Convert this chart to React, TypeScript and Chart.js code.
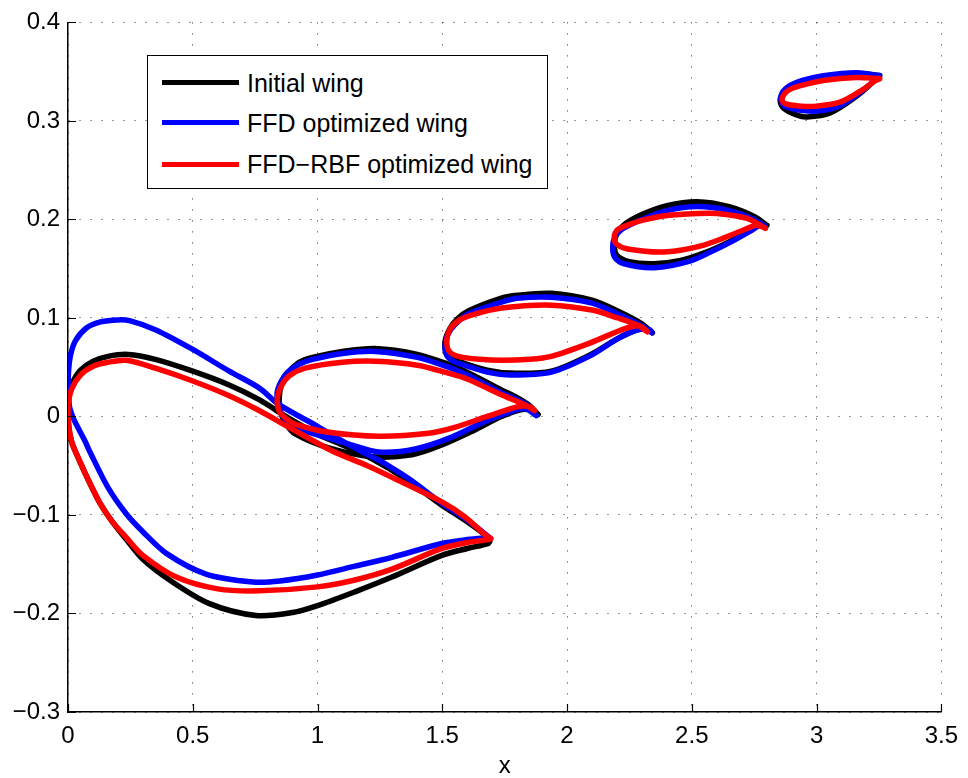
import React, { useEffect, useRef } from "react";
import { Chart, registerables } from "chart.js";

Chart.register(...registerables);

type P = [number, number];

const seriesNames = ["Initial wing", "FFD optimized wing", "FFD−RBF optimized wing"];
const seriesColors = ["#000000", "#0000ff", "#ff0000"];

const xTickValues = [0, 0.5, 1, 1.5, 2, 2.5, 3, 3.5];
const xTickLabels = ["0", "0.5", "1", "1.5", "2", "2.5", "3", "3.5"];
const yTickValues = [-0.3, -0.2, -0.1, 0, 0.1, 0.2, 0.3, 0.4];
const yTickLabels = ["−0.3", "−0.2", "−0.1", "0", "0.1", "0.2", "0.3", "0.4"];
const xTitle = "x";

// ---- Initial wing (black) ----
const initialWing1: P[] = [
  [1.69, -0.127], [1.684, -0.123], [1.6, -0.107], [1.498, -0.09], [1.35, -0.063], [1.218, -0.043],
  [1.1, -0.029], [1.0, -0.018], [0.886, -0.002], [0.766, 0.017], [0.646, 0.032], [0.5, 0.046],
  [0.35, 0.058], [0.241, 0.063], [0.16, 0.061], [0.101, 0.056], [0.05, 0.047], [0.021, 0.036],
  [0.005, 0.024], [0, 0.01],
  [0.003, -0.01], [0.015, -0.026], [0.048, -0.046], [0.09, -0.069], [0.128, -0.088], [0.175, -0.106],
  [0.234, -0.125], [0.3, -0.145], [0.407, -0.166], [0.567, -0.19], [0.753, -0.202], [0.9, -0.199],
  [1.0, -0.192], [1.15, -0.178], [1.298, -0.163], [1.498, -0.141], [1.6, -0.134], [1.684, -0.129],
  [1.69, -0.127],
];
const initialWing2: P[] = [
  [1.884, 0.002], [1.85, 0.011], [1.8, 0.019], [1.737, 0.027], [1.6, 0.045], [1.524, 0.053],
  [1.4, 0.063], [1.232, 0.069], [1.1, 0.066], [0.98, 0.06], [0.926, 0.055], [0.88, 0.044],
  [0.855, 0.032], [0.846, 0.017],
  [0.852, 0.004], [0.875, -0.008], [0.912, -0.018], [1.045, -0.032], [1.218, -0.041], [1.378, -0.039],
  [1.498, -0.029], [1.62, -0.015], [1.737, 0.0], [1.82, 0.007], [1.86, 0.006], [1.884, 0.002],
];
const initialWing3: P[] = [
  [2.342, 0.085], [2.3, 0.094], [2.203, 0.107], [2.1, 0.118], [1.937, 0.125], [1.8, 0.123],
  [1.737, 0.12], [1.604, 0.107], [1.56, 0.099], [1.53, 0.089], [1.511, 0.076],
  [1.518, 0.064], [1.55, 0.058], [1.577, 0.055], [1.68, 0.047], [1.777, 0.044], [1.937, 0.046],
  [2.096, 0.063], [2.203, 0.079], [2.282, 0.088], [2.33, 0.088], [2.342, 0.085],
];
const initialWing4: P[] = [
  [2.801, 0.194], [2.75, 0.203], [2.65, 0.213], [2.522, 0.218], [2.4, 0.214], [2.3, 0.205],
  [2.23, 0.195], [2.2, 0.186], [2.19, 0.175],
  [2.198, 0.164], [2.25, 0.157], [2.349, 0.155], [2.45, 0.158], [2.55, 0.166], [2.655, 0.178],
  [2.74, 0.19], [2.785, 0.196], [2.801, 0.194],
];
const initialWing5: P[] = [
  [3.253, 0.346], [3.16, 0.348], [3.027, 0.344], [2.94, 0.338], [2.894, 0.333], [2.865, 0.327],
  [2.854, 0.321],
  [2.868, 0.313], [2.92, 0.306], [2.961, 0.304], [3.054, 0.308], [3.16, 0.325], [3.22, 0.338],
  [3.253, 0.346],
];

// ---- FFD optimized wing (blue) ----
const ffdWing1: P[] = [
  [1.69, -0.123], [1.66, -0.117], [1.6, -0.105], [1.498, -0.088], [1.365, -0.063], [1.258, -0.046],
  [1.218, -0.041], [1.1, -0.025], [1.0, -0.01], [0.846, 0.012], [0.766, 0.029], [0.646, 0.046],
  [0.5, 0.068], [0.35, 0.088], [0.25, 0.097], [0.2, 0.098], [0.13, 0.096], [0.075, 0.09],
  [0.03, 0.077], [0.01, 0.062], [0.002, 0.045], [0.001, 0.028],
  [0.006, 0.01], [0.02, -0.001], [0.035, -0.009], [0.068, -0.025], [0.088, -0.036], [0.16, -0.072],
  [0.234, -0.099], [0.3, -0.117], [0.394, -0.139], [0.553, -0.16], [0.74, -0.168], [0.85, -0.167],
  [1.0, -0.161], [1.15, -0.152], [1.298, -0.143], [1.498, -0.129], [1.6, -0.125], [1.684, -0.123],
  [1.69, -0.123],
];
const ffdWing2: P[] = [
  [1.877, 0.001], [1.85, 0.01], [1.8, 0.017], [1.737, 0.024], [1.6, 0.042], [1.524, 0.05],
  [1.4, 0.06], [1.232, 0.066], [1.1, 0.064], [0.98, 0.058], [0.926, 0.053], [0.88, 0.045],
  [0.855, 0.036], [0.838, 0.024],
  [0.846, 0.008], [0.87, -0.003], [0.92, -0.012], [1.045, -0.022], [1.125, -0.028], [1.245, -0.036],
  [1.392, -0.033], [1.538, -0.021], [1.671, -0.005], [1.764, 0.004], [1.83, 0.008], [1.877, 0.001],
];
const ffdWing3: P[] = [
  [2.34, 0.085], [2.3, 0.092], [2.203, 0.104], [2.1, 0.115], [1.937, 0.121], [1.8, 0.12],
  [1.737, 0.116], [1.604, 0.104], [1.55, 0.093], [1.522, 0.083], [1.511, 0.072],
  [1.518, 0.062], [1.545, 0.056], [1.577, 0.053], [1.68, 0.045], [1.777, 0.042], [1.937, 0.045],
  [2.096, 0.062], [2.203, 0.079], [2.282, 0.088], [2.33, 0.088], [2.34, 0.085],
];
const ffdWing4: P[] = [
  [2.795, 0.193], [2.75, 0.2], [2.65, 0.209], [2.522, 0.213], [2.4, 0.209], [2.3, 0.2],
  [2.22, 0.19], [2.19, 0.181], [2.183, 0.172],
  [2.19, 0.162], [2.229, 0.155], [2.349, 0.151], [2.495, 0.158], [2.6, 0.17], [2.655, 0.177],
  [2.74, 0.189], [2.78, 0.195], [2.795, 0.193],
];
const ffdWing5: P[] = [
  [3.25, 0.346], [3.16, 0.349], [3.027, 0.346], [2.94, 0.341], [2.894, 0.336], [2.866, 0.33],
  [2.857, 0.322],
  [2.872, 0.315], [2.93, 0.311], [3.0, 0.31], [3.07, 0.313], [3.12, 0.319], [3.2, 0.334],
  [3.25, 0.346],
];

// ---- FFD-RBF optimized wing (red) ----
const ffdRbfWing1: P[] = [
  [1.695, -0.124], [1.671, -0.12], [1.591, -0.102], [1.5, -0.087], [1.325, -0.065], [1.2, -0.05],
  [1.059, -0.035], [0.9, -0.013], [0.766, 0.006], [0.646, 0.021], [0.5, 0.036], [0.35, 0.049],
  [0.234, 0.057], [0.16, 0.055], [0.101, 0.051], [0.05, 0.042], [0.015, 0.028], [0, 0.01],
  [0.003, -0.01], [0.015, -0.026], [0.048, -0.046], [0.09, -0.069], [0.128, -0.088], [0.175, -0.106],
  [0.234, -0.123], [0.3, -0.141], [0.434, -0.163], [0.6, -0.175], [0.766, -0.177], [1.0, -0.173],
  [1.15, -0.166], [1.298, -0.155], [1.498, -0.134], [1.6, -0.128], [1.684, -0.125], [1.695, -0.124],
];
const ffdRbfWing2: P[] = [
  [1.87, 0.006], [1.83, 0.012], [1.737, 0.022], [1.6, 0.038], [1.524, 0.044], [1.4, 0.052],
  [1.232, 0.056], [1.1, 0.055], [0.95, 0.049], [0.886, 0.041], [0.855, 0.031], [0.839, 0.019],
  [0.845, 0.006], [0.873, -0.002], [0.912, -0.008], [1.045, -0.016], [1.245, -0.02], [1.445, -0.017],
  [1.55, -0.011], [1.68, 0.0], [1.804, 0.01], [1.85, 0.01], [1.87, 0.006],
];
const ffdRbfWing3: P[] = [
  [2.322, 0.086], [2.28, 0.093], [2.203, 0.1], [2.1, 0.108], [1.937, 0.113], [1.737, 0.11],
  [1.62, 0.103], [1.564, 0.097], [1.53, 0.088], [1.518, 0.076],
  [1.528, 0.066], [1.564, 0.061], [1.65, 0.058], [1.737, 0.057], [1.85, 0.058], [1.937, 0.061],
  [2.096, 0.075], [2.229, 0.089], [2.29, 0.092], [2.322, 0.086],
];
const ffdRbfWing4: P[] = [
  [2.795, 0.191], [2.721, 0.201], [2.6, 0.206], [2.522, 0.206], [2.4, 0.204], [2.3, 0.199],
  [2.229, 0.193], [2.2, 0.189], [2.189, 0.182],
  [2.198, 0.175], [2.243, 0.17], [2.389, 0.167], [2.549, 0.174], [2.695, 0.188], [2.76, 0.194],
  [2.795, 0.191],
];
const ffdRbfWing5: P[] = [
  [3.253, 0.343], [3.16, 0.344], [3.027, 0.341], [2.94, 0.336], [2.894, 0.332], [2.87, 0.327],
  [2.862, 0.321],
  [2.88, 0.317], [2.94, 0.315], [3.0, 0.315], [3.094, 0.319], [3.187, 0.332], [3.23, 0.34],
  [3.253, 0.343],
];

const seriesWings: P[][][] = [
  [initialWing1, initialWing2, initialWing3, initialWing4, initialWing5],
  [ffdWing1, ffdWing2, ffdWing3, ffdWing4, ffdWing5],
  [ffdRbfWing1, ffdRbfWing2, ffdRbfWing3, ffdRbfWing4, ffdRbfWing5],
];

const FONT = "'Liberation Sans', Arial, Helvetica, sans-serif";

const inwardTicks = {
  id: "inwardTicks",
  afterDatasetsDraw(chart: any) {
    const { ctx, chartArea, scales } = chart;
    const len = 8;
    ctx.save();
    ctx.strokeStyle = "#000";
    ctx.lineWidth = 1.2;
    ctx.beginPath();
    for (const v of xTickValues) {
      const px = Math.round(scales.x.getPixelForValue(v)) + 0.5;
      ctx.moveTo(px, chartArea.bottom);
      ctx.lineTo(px, chartArea.bottom - len);
    }
    for (const v of yTickValues) {
      const py = Math.round(scales.y.getPixelForValue(v)) + 0.5;
      ctx.moveTo(chartArea.left, py);
      ctx.lineTo(chartArea.left + len, py);
    }
    ctx.stroke();
    ctx.restore();
  },
};

export default function App() {
  const canvasRef = useRef<HTMLCanvasElement | null>(null);

  useEffect(() => {
    if (!canvasRef.current) return;
    const datasets: any[] = [];
    seriesWings.forEach((wings, s) => {
      wings.forEach((wing, w) => {
        datasets.push({
          label: w === 0 ? seriesNames[s] : seriesNames[s] + " " + (w + 1),
          data: wing.map(([x, y]) => ({ x, y })),
          showLine: true,
          borderColor: seriesColors[s],
          backgroundColor: seriesColors[s],
          borderWidth: 5.5,
          pointRadius: 0,
          pointHoverRadius: 0,
          tension: 0.3,
          fill: false,
          borderJoinStyle: "round",
          borderCapStyle: "round",
          order: 3 - s,
        });
      });
    });

    const chart = new Chart(canvasRef.current, {
      type: "scatter",
      data: { datasets },
      plugins: [inwardTicks],
      options: {
        animation: false,
        responsive: false,
        maintainAspectRatio: false,
        events: [],
        layout: { padding: { left: 0, right: 23, top: 20, bottom: 0 } },
        plugins: {
          legend: { display: false },
          tooltip: { enabled: false },
        },
        scales: {
          x: {
            type: "linear",
            min: 0,
            max: 3.5,
            afterFit: (axis: any) => {
              axis.height = 66;
            },
            afterBuildTicks: (axis: any) => {
              axis.ticks = xTickValues.map((v) => ({ value: v }));
            },
            ticks: {
              autoSkip: false,
              maxRotation: 0,
              padding: 10,
              color: "#000",
              font: { family: FONT, size: 24 },
              callback: (_v: any, i: number) => xTickLabels[i],
            },
            grid: {
              color: "rgba(0,0,0,0.8)",
              lineWidth: 1,
              drawTicks: false,
            },
            border: { display: true, color: "#000", width: 1.5, dash: [1, 10] },
            title: {
              display: true,
              text: xTitle,
              color: "#000",
              font: { family: FONT, size: 24, lineHeight: 1 },
              padding: { top: 0, bottom: 0 },
            },
          },
          y: {
            type: "linear",
            min: -0.3,
            max: 0.4,
            afterFit: (axis: any) => {
              axis.width = 68;
            },
            afterBuildTicks: (axis: any) => {
              axis.ticks = yTickValues.map((v) => ({ value: v }));
            },
            ticks: {
              autoSkip: false,
              padding: 8,
              color: "#000",
              font: { family: FONT, size: 24 },
              callback: (_v: any, i: number) => yTickLabels[i],
            },
            grid: {
              color: "rgba(0,0,0,0.8)",
              lineWidth: 1,
              drawTicks: false,
            },
            border: { display: true, color: "#000", width: 1.5, dash: [1, 10] },
          },
        },
      },
    } as any);

    return () => chart.destroy();
  }, []);

  const rowCenters = [26.7, 66.7, 108.3];

  return (
    <div
      style={{
        position: "absolute",
        left: 0,
        top: 0,
        width: 968,
        height: 778,
        background: "#fff",
        overflow: "hidden",
      }}
    >
      <canvas ref={canvasRef} width={968} height={778} style={{ display: "block" }} />
      <div
        style={{
          position: "absolute",
          left: 147,
          top: 55,
          width: 401,
          height: 134,
          border: "1px solid #000",
          background: "#fff",
          boxSizing: "border-box",
          fontFamily: FONT,
        }}
      >
        {seriesNames.map((name, i) => (
          <div
            key={name}
            style={{
              position: "absolute",
              left: 0,
              top: rowCenters[i] - 16,
              height: 32,
              display: "flex",
              alignItems: "center",
              whiteSpace: "nowrap",
            }}
          >
            <div
              style={{
                marginLeft: 14,
                width: 77,
                height: 5,
                background: seriesColors[i],
              }}
            />
            <span style={{ marginLeft: 8, fontSize: 25, color: "#000", lineHeight: "32px" }}>{name}</span>
          </div>
        ))}
      </div>
    </div>
  );
}
